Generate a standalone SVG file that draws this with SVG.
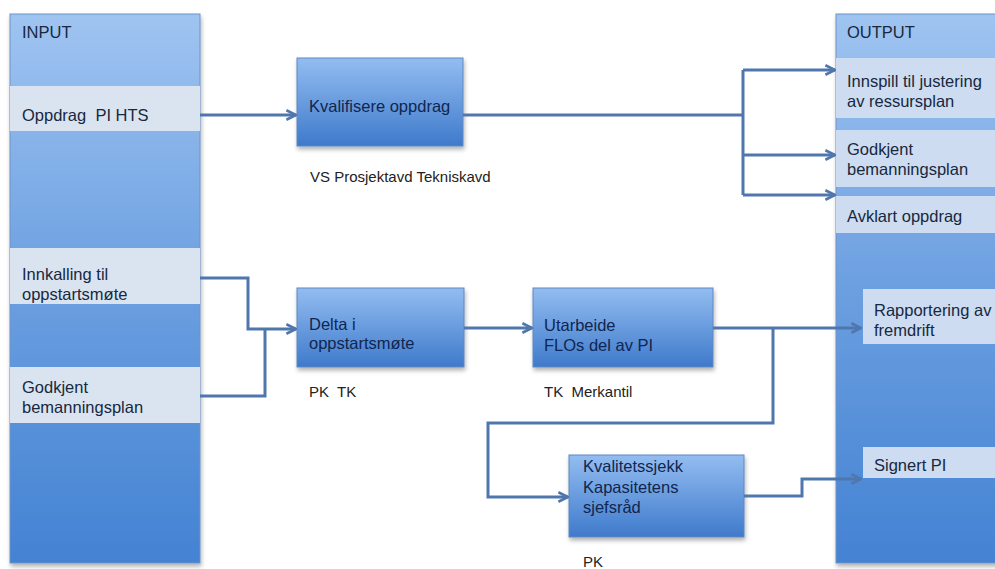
<svg xmlns="http://www.w3.org/2000/svg" width="995" height="569" viewBox="0 0 995 569">
<defs>
<linearGradient id="colGrad" x1="0" y1="0" x2="0" y2="1">
<stop offset="0" stop-color="#9fc4f1"/>
<stop offset="0.5" stop-color="#6b9fe0"/>
<stop offset="1" stop-color="#4482d3"/>
</linearGradient>
<linearGradient id="boxGrad" x1="0" y1="0" x2="0" y2="1">
<stop offset="0" stop-color="#93bdf1"/>
<stop offset="1" stop-color="#3f7acb"/>
</linearGradient>
<filter id="shadow" x="-10%" y="-10%" width="125%" height="130%">
<feDropShadow dx="1" dy="3" stdDeviation="2" flood-color="#000" flood-opacity="0.3"/>
</filter>
<marker id="arr" viewBox="0 0 10 10" refX="9" refY="5" markerWidth="4" markerHeight="4" orient="auto" markerUnits="strokeWidth">
<path d="M1,1 L9,5 L1,9" fill="none" stroke="#5077ad" stroke-width="2.2" stroke-linejoin="miter"/>
</marker>
</defs>
<style>
text{white-space:pre}
.col{fill:url(#colGrad);stroke:#6d94c8;stroke-width:1;filter:url(#shadow)}
.bandIn{fill:#dae4f0}
.bandOut{fill:#cddcf0}
.box{fill:url(#boxGrad);stroke:#5f88c2;stroke-width:1;filter:url(#shadow)}
.t{font-family:"Liberation Sans",Arial,sans-serif;font-size:16.5px;fill:#17283f}
.tb{font-family:"Liberation Sans",Arial,sans-serif;font-size:16.5px;fill:#102650}
.role{font-family:"Liberation Sans",Arial,sans-serif;font-size:15px;fill:#222222}
.conn{fill:none;stroke:#5077ad;stroke-width:3;stroke-linejoin:miter}
</style>
<rect width="995" height="569" fill="#ffffff"/>

<g id="input">
<rect class="col" x="10" y="14" width="190" height="549"/>
<text class="t" x="22" y="38" font-size="15">INPUT</text>
<rect class="bandIn" x="10" y="86" width="190" height="45"/>
<text class="t" x="22" y="121">Oppdrag  PI HTS</text>
<rect class="bandIn" x="10" y="248" width="190" height="56"/>
<text class="t" x="22" y="280">Innkalling til</text>
<text class="t" x="22" y="300">oppstartsmøte</text>
<rect class="bandIn" x="10" y="367" width="190" height="56"/>
<text class="t" x="22" y="393">Godkjent</text>
<text class="t" x="22" y="413">bemanningsplan</text>
</g>

<g id="output">
<rect class="col" x="836" y="14" width="175" height="549"/>
<text class="t" x="847" y="38" font-size="15">OUTPUT</text>
<rect class="bandOut" x="836" y="58" width="159" height="60"/>
<text class="t" x="847" y="87">Innspill til justering</text>
<text class="t" x="847" y="107">av ressursplan</text>
<rect class="bandOut" x="836" y="130" width="159" height="57"/>
<text class="t" x="847" y="155">Godkjent</text>
<text class="t" x="847" y="175">bemanningsplan</text>
<rect class="bandOut" x="836" y="196" width="159" height="37"/>
<text class="t" x="847" y="222">Avklart oppdrag</text>
<rect class="bandOut" x="863" y="289" width="132" height="55"/>
<text class="t" x="874" y="316">Rapportering av</text>
<text class="t" x="874" y="336">fremdrift</text>
<rect class="bandOut" x="863" y="447" width="132" height="31"/>
<text class="t" x="874" y="471">Signert PI</text>
</g>

<g id="kvalifisere">
<rect class="box" x="297" y="58" width="166" height="88"/>
<text class="tb" x="309" y="112">Kvalifisere oppdrag</text>
<text class="role" x="310" y="182" font-size="13">VS Prosjektavd Tekniskavd</text>
</g>

<g id="delta">
<rect class="box" x="297" y="288" width="167" height="79"/>
<text class="tb" x="309" y="330">Delta i</text>
<text class="tb" x="309" y="349">oppstartsmøte</text>
<text class="role" x="309" y="397">PK  TK</text>
</g>

<g id="utarbeide">
<rect class="box" x="533" y="288" width="180" height="79"/>
<text class="tb" x="544" y="331">Utarbeide</text>
<text class="tb" x="544" y="351">FLOs del av PI</text>
<text class="role" x="544" y="397">TK  Merkantil</text>
</g>

<g id="kvalitetssjekk">
<rect class="box" x="569" y="455" width="175" height="82"/>
<text class="tb" x="583" y="472">Kvalitetssjekk</text>
<text class="tb" x="583" y="493">Kapasitetens</text>
<text class="tb" x="583" y="513">sjefsråd</text>
<text class="role" x="583" y="567">PK</text>
</g>

<g id="connectors">
<path class="conn" d="M200,115 H296" marker-end="url(#arr)"/>
<path class="conn" d="M463,115 H743"/>
<path class="conn" d="M743,195 V70"/>
<path class="conn" d="M743,70 H835" marker-end="url(#arr)"/>
<path class="conn" d="M743,155 H835" marker-end="url(#arr)"/>
<path class="conn" d="M743,195 H835" marker-end="url(#arr)"/>
<path class="conn" d="M200,278 H248 V329 H296" marker-end="url(#arr)"/>
<path class="conn" d="M200,396 H265 V329"/>
<path class="conn" d="M464,328 H532" marker-end="url(#arr)"/>
<path class="conn" d="M713,328 H861" marker-end="url(#arr)"/>
<path class="conn" d="M773,328 V423 H488 V497 H568" marker-end="url(#arr)"/>
<path class="conn" d="M744,496 H802 V479 H861" marker-end="url(#arr)"/>
</g>
</svg>
